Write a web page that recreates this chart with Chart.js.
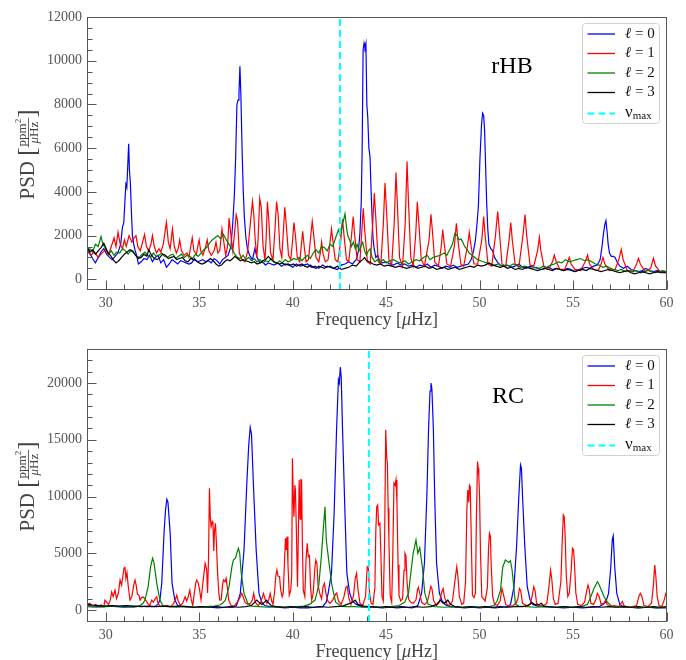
<!DOCTYPE html>
<html>
<head>
<meta charset="utf-8">
<script src="https://cdn.jsdelivr.net/npm/chart.js@4.4.1/dist/chart.umd.min.js"></script>
<style>
html, body { margin: 0; padding: 0; background: #fff; }
canvas { display: block; }
</style>
</head>
<body>
<canvas id="top" width="686" height="330"></canvas>
<canvas id="bottom" width="686" height="330"></canvas>
<script>
// axis ticks
const freqTicks = [30, 35, 40, 45, 50, 55, 60];
const rhbTicks = [0, 2000, 4000, 6000, 8000, 10000, 12000];
const rcTicks = [0, 5000, 10000, 15000, 20000];
const degrees = ['0', '1', '2', '3'];
const colors = ['#0000ff', '#ff0000', '#008000', '#000000'];
const numaxRHB = 42.53;
const numaxRC = 44.08;

// rHB star: [frequency, PSD] for l = 0..3
const rhbL0 = [[29.0,1450],[29.15,1200],[29.3,950],[29.45,750],[29.6,1000],[29.75,1250],[29.9,1400],[30.05,1150],[30.2,1000],[30.35,900],[30.5,1050],[30.65,1200],[30.8,1600],[30.9,2400],[30.97,2600],[31.03,3600],[31.08,4350],[31.13,4200],[31.18,5200],[31.23,6200],[31.27,5000],[31.32,4400],[31.38,3000],[31.43,2000],[31.5,1600],[31.58,1300],[31.65,1100],[31.75,700],[31.9,800],[32.05,950],[32.2,900],[32.35,1100],[32.5,800],[32.65,1000],[32.8,1100],[32.95,750],[33.1,900],[33.25,550],[33.4,700],[33.55,900],[33.7,800],[33.85,700],[34.0,850],[34.15,800],[34.3,750],[34.45,700],[34.6,750],[34.75,950],[34.9,800],[35.05,850],[35.2,900],[35.35,800],[35.5,850],[35.65,750],[35.8,950],[35.95,850],[36.1,700],[36.25,900],[36.4,1000],[36.55,1100],[36.7,1500],[36.8,2600],[36.88,3800],[36.95,5500],[37.02,8000],[37.08,8200],[37.13,8500],[37.18,9750],[37.23,8500],[37.3,5800],[37.36,4000],[37.42,2800],[37.5,1900],[37.58,1400],[37.7,1100],[37.85,900],[37.98,1400],[38.1,1000],[38.25,750],[38.4,800],[38.55,650],[38.7,750],[38.85,700],[39.0,650],[39.2,750],[39.4,600],[39.6,700],[39.8,650],[40.0,550],[40.2,700],[40.4,600],[40.6,650],[40.8,700],[41.0,550],[41.2,600],[41.4,500],[41.6,650],[41.8,550],[42.0,600],[42.2,500],[42.4,450],[42.6,650],[42.8,700],[43.0,800],[43.2,700],[43.4,900],[43.52,1300],[43.6,2100],[43.67,3500],[43.72,6000],[43.77,10500],[43.82,10800],[43.87,10600],[43.92,10800],[43.97,8000],[44.02,7400],[44.08,6000],[44.14,5600],[44.2,4000],[44.25,2900],[44.3,1900],[44.36,1400],[44.45,1000],[44.55,1100],[44.65,850],[44.8,750],[45.0,800],[45.2,700],[45.4,650],[45.6,750],[45.8,650],[46.0,700],[46.2,600],[46.4,650],[46.6,550],[46.8,650],[47.0,600],[47.2,700],[47.4,550],[47.6,650],[47.8,600],[48.0,500],[48.2,600],[48.4,550],[48.6,650],[48.8,550],[49.0,600],[49.2,650],[49.4,700],[49.55,900],[49.68,1300],[49.78,1800],[49.87,2600],[49.94,3400],[50.02,5500],[50.1,7000],[50.16,7600],[50.22,7500],[50.27,6800],[50.33,5000],[50.38,3500],[50.44,2300],[50.5,1600],[50.6,1400],[50.7,1300],[50.8,1000],[50.95,800],[51.1,650],[51.3,600],[51.5,650],[51.7,550],[51.9,600],[52.1,700],[52.3,550],[52.5,500],[52.7,600],[52.9,550],[53.1,500],[53.3,450],[53.5,500],[53.7,550],[53.9,450],[54.1,500],[54.3,450],[54.5,400],[54.7,500],[54.9,450],[55.1,350],[55.3,450],[55.5,500],[55.7,550],[55.9,500],[56.1,600],[56.3,650],[56.45,900],[56.55,1500],[56.63,2100],[56.7,2500],[56.76,2680],[56.82,2200],[56.88,1600],[56.95,1200],[57.05,1050],[57.15,1050],[57.25,1000],[57.35,800],[57.5,600],[57.7,500],[57.9,600],[58.1,450],[58.3,400],[58.5,350],[58.7,400],[58.9,500],[59.1,400],[59.3,350],[59.5,400],[59.7,350],[60.0,350]];
const rhbL1 = [[29.0,1300],[29.2,1100],[29.4,1250],[29.6,1000],[29.8,1200],[30.0,1350],[30.15,1100],[30.3,1500],[30.45,1900],[30.55,1500],[30.66,2150],[30.78,1600],[30.9,1400],[31.0,1800],[31.1,1500],[31.25,2000],[31.4,1700],[31.52,1900],[31.62,2000],[31.72,1500],[31.85,1300],[31.97,1700],[32.08,2050],[32.18,1500],[32.3,1300],[32.42,1600],[32.5,2000],[32.6,1500],[32.72,1200],[32.85,1400],[32.95,1250],[33.08,1600],[33.16,2100],[33.25,2600],[33.35,1700],[33.45,1400],[33.57,2300],[33.67,1500],[33.78,1200],[33.88,1400],[33.96,1800],[34.05,1300],[34.2,1100],[34.35,1200],[34.45,1000],[34.55,1500],[34.63,1900],[34.72,1300],[34.85,1150],[34.95,1600],[35.0,1800],[35.08,1300],[35.2,1100],[35.32,1400],[35.43,1800],[35.52,1300],[35.65,1100],[35.8,1300],[35.9,1700],[36.0,1200],[36.1,1300],[36.22,2300],[36.32,1700],[36.42,1100],[36.52,1500],[36.6,2800],[36.7,2000],[36.8,1300],[36.9,2200],[36.98,2950],[37.05,2700],[37.15,1200],[37.3,900],[37.45,800],[37.6,1300],[37.72,2400],[37.85,3550],[37.92,3000],[38.0,1800],[38.08,1000],[38.15,1800],[38.24,3700],[38.32,3300],[38.42,1500],[38.52,900],[38.58,1800],[38.65,3550],[38.72,2800],[38.82,1200],[38.95,900],[39.05,2200],[39.14,3550],[39.22,3000],[39.32,1400],[39.42,1000],[39.5,2100],[39.58,3300],[39.66,2500],[39.78,1100],[39.9,900],[40.0,1800],[40.07,2600],[40.15,2000],[40.25,1000],[40.38,800],[40.47,1600],[40.54,2200],[40.62,1500],[40.72,800],[40.85,900],[40.97,2000],[41.05,2650],[41.13,2000],[41.25,1000],[41.4,800],[41.5,1300],[41.55,1700],[41.62,1200],[41.75,800],[41.9,900],[42.0,1700],[42.08,2300],[42.16,1700],[42.28,900],[42.42,800],[42.58,1800],[42.67,2750],[42.75,2000],[42.88,900],[43.0,800],[43.15,2000],[43.24,2870],[43.32,2000],[43.45,900],[43.6,800],[43.7,2200],[43.78,3250],[43.86,2200],[44.0,800],[44.15,700],[44.28,2500],[44.37,3940],[44.45,2800],[44.58,800],[44.72,700],[44.85,2500],[44.94,4400],[45.02,3200],[45.15,900],[45.3,650],[45.43,2500],[45.53,4880],[45.6,3500],[45.72,1000],[45.88,600],[46.02,2500],[46.12,5390],[46.2,3500],[46.32,1000],[46.45,600],[46.58,2000],[46.67,3550],[46.75,2600],[46.88,900],[47.05,600],[47.3,1800],[47.4,2970],[47.48,2200],[47.6,800],[47.8,600],[47.95,1500],[48.03,2260],[48.1,1700],[48.25,700],[48.45,600],[48.65,1500],[48.76,2560],[48.84,1800],[49.0,700],[49.15,600],[49.35,1500],[49.45,2150],[49.55,1500],[49.7,700],[49.9,700],[50.12,1800],[50.22,2870],[50.3,2000],[50.45,700],[50.65,600],[50.85,2000],[50.97,3100],[51.05,2300],[51.2,700],[51.4,600],[51.58,1800],[51.67,2600],[51.75,1800],[51.9,700],[52.1,550],[52.32,2000],[52.43,2960],[52.52,2000],[52.7,650],[52.9,600],[53.1,1300],[53.2,1920],[53.28,1300],[53.45,550],[53.7,450],[53.9,800],[54.0,1110],[54.1,800],[54.3,450],[54.55,450],[54.72,800],[54.8,1000],[54.9,700],[55.1,450],[55.4,400],[55.65,800],[55.78,1110],[55.88,700],[56.1,450],[56.35,400],[56.5,700],[56.6,1000],[56.7,700],[56.95,400],[57.25,450],[57.45,900],[57.58,1370],[57.68,900],[57.9,400],[58.2,350],[58.4,700],[58.5,960],[58.6,700],[58.85,350],[59.15,500],[59.3,960],[59.42,600],[59.65,350],[60.0,300]];
const rhbL2 = [[29.0,1200],[29.15,1400],[29.3,1250],[29.45,1600],[29.6,1500],[29.75,1950],[29.85,1600],[30.0,1400],[30.15,1150],[30.3,1300],[30.45,1100],[30.6,1250],[30.75,1200],[30.9,1400],[31.05,1300],[31.2,1150],[31.35,1300],[31.5,1200],[31.65,1050],[31.8,1000],[31.95,1150],[32.1,1250],[32.25,1100],[32.4,1000],[32.55,1200],[32.7,1050],[32.85,1100],[33.0,1200],[33.15,1050],[33.3,1000],[33.45,1100],[33.6,1150],[33.75,950],[33.9,1050],[34.05,1150],[34.2,1000],[34.35,1100],[34.5,1050],[34.65,950],[34.8,1150],[34.95,1050],[35.1,1200],[35.25,1350],[35.4,1450],[35.55,1650],[35.7,1800],[35.85,1900],[36.0,2000],[36.15,1850],[36.3,2050],[36.45,1800],[36.6,1600],[36.75,1400],[36.9,1150],[37.05,1000],[37.2,950],[37.35,1100],[37.5,900],[37.65,1000],[37.8,850],[37.95,950],[38.1,800],[38.25,900],[38.4,750],[38.55,850],[38.7,800],[38.85,950],[39.0,800],[39.15,700],[39.3,850],[39.45,750],[39.6,900],[39.75,800],[39.9,850],[40.05,950],[40.2,900],[40.35,1000],[40.5,850],[40.65,1000],[40.8,1100],[40.95,950],[41.1,1200],[41.25,1350],[41.4,1200],[41.55,1500],[41.7,1450],[41.85,1300],[42.0,1600],[42.15,1500],[42.3,1900],[42.45,2260],[42.55,2000],[42.65,2500],[42.72,2700],[42.8,3000],[42.88,2400],[42.95,2000],[43.05,1800],[43.15,1500],[43.25,1700],[43.35,1400],[43.45,1600],[43.55,1300],[43.65,1500],[43.75,1700],[43.85,1300],[43.95,1100],[44.05,1300],[44.15,1400],[44.25,1000],[44.4,800],[44.55,900],[44.7,800],[44.85,900],[45.0,750],[45.2,850],[45.4,900],[45.6,800],[45.8,750],[46.0,850],[46.2,700],[46.4,800],[46.6,900],[46.8,850],[47.0,1000],[47.2,1100],[47.35,900],[47.5,1000],[47.7,1050],[47.9,1100],[48.1,1200],[48.25,1100],[48.4,1350],[48.55,1600],[48.68,2100],[48.8,2000],[48.9,1800],[49.0,1850],[49.1,1700],[49.2,1500],[49.3,1400],[49.45,1200],[49.6,1100],[49.75,1000],[49.9,900],[50.05,850],[50.2,800],[50.4,750],[50.6,700],[50.8,650],[51.0,700],[51.2,600],[51.4,650],[51.6,600],[51.8,700],[52.0,650],[52.2,550],[52.4,600],[52.6,550],[52.8,500],[53.0,550],[53.2,500],[53.4,600],[53.6,550],[53.8,650],[54.0,700],[54.2,800],[54.4,750],[54.6,900],[54.8,800],[55.0,850],[55.2,900],[55.4,950],[55.6,850],[55.8,900],[56.0,800],[56.2,700],[56.4,650],[56.6,550],[56.8,600],[57.0,500],[57.2,450],[57.4,400],[57.6,450],[57.8,350],[58.0,400],[58.2,350],[58.4,400],[58.6,300],[58.8,350],[59.0,400],[59.2,350],[59.4,300],[59.6,350],[59.8,400],[60.0,350]];
const rhbL3 = [[29.0,1500],[29.15,1250],[29.3,1350],[29.45,1150],[29.6,1300],[29.75,1450],[29.9,1650],[30.0,1450],[30.1,1250],[30.25,1100],[30.4,900],[30.55,750],[30.7,850],[30.85,1000],[31.0,1150],[31.15,1250],[31.3,1350],[31.45,1300],[31.6,1100],[31.75,950],[31.9,1000],[32.05,1150],[32.2,1050],[32.3,1350],[32.45,1100],[32.6,950],[32.75,900],[32.9,1000],[33.05,1150],[33.2,1100],[33.35,950],[33.5,1000],[33.65,1050],[33.8,900],[33.95,950],[34.1,1000],[34.25,850],[34.4,800],[34.55,950],[34.7,900],[34.85,850],[35.0,750],[35.15,700],[35.3,750],[35.45,850],[35.6,950],[35.75,850],[35.9,700],[36.05,600],[36.2,650],[36.35,800],[36.5,900],[36.65,850],[36.8,950],[36.9,1050],[37.05,950],[37.2,850],[37.35,900],[37.5,850],[37.65,800],[37.8,750],[37.95,800],[38.1,700],[38.25,750],[38.4,850],[38.55,900],[38.7,1050],[38.85,900],[39.0,800],[39.15,750],[39.3,700],[39.45,750],[39.6,650],[39.75,700],[39.9,650],[40.05,700],[40.2,600],[40.35,650],[40.5,700],[40.65,600],[40.8,550],[40.95,650],[41.1,550],[41.25,500],[41.4,600],[41.55,550],[41.7,500],[41.85,600],[42.0,550],[42.2,500],[42.4,600],[42.6,450],[42.8,500],[43.0,550],[43.2,650],[43.4,600],[43.6,800],[43.75,900],[43.85,1000],[43.95,850],[44.1,800],[44.3,700],[44.5,650],[44.7,700],[44.9,600],[45.1,650],[45.3,600],[45.5,550],[45.7,600],[45.9,550],[46.1,500],[46.3,550],[46.5,600],[46.7,500],[46.9,550],[47.1,600],[47.3,500],[47.5,550],[47.7,450],[47.9,500],[48.1,550],[48.3,450],[48.5,500],[48.7,550],[48.9,450],[49.1,500],[49.3,550],[49.5,600],[49.7,550],[49.9,650],[50.1,600],[50.3,650],[50.5,750],[50.7,650],[50.9,600],[51.1,550],[51.3,600],[51.5,500],[51.7,550],[51.9,450],[52.1,500],[52.3,450],[52.5,550],[52.7,500],[52.9,450],[53.1,400],[53.3,450],[53.5,500],[53.7,450],[53.9,400],[54.1,500],[54.3,450],[54.5,400],[54.7,450],[54.9,400],[55.1,350],[55.3,400],[55.5,450],[55.7,400],[55.9,500],[56.1,450],[56.3,400],[56.5,350],[56.7,400],[56.9,450],[57.1,400],[57.3,350],[57.5,300],[57.7,350],[57.9,400],[58.1,300],[58.3,250],[58.5,300],[58.7,350],[58.9,300],[59.1,250],[59.3,300],[59.5,350],[59.7,300],[60.0,300]];

// RC star: [frequency, PSD] for l = 0..3
const rcL0 = [[29.0,400],[29.4,350],[29.8,300],[30.2,350],[30.6,300],[31.0,250],[31.4,300],[31.8,350],[32.2,300],[32.6,300],[32.8,500],[32.9,880],[33.0,2380],[33.12,6760],[33.2,8800],[33.27,9760],[33.33,9500],[33.45,6760],[33.55,2380],[33.7,880],[33.85,400],[34.0,350],[34.4,300],[34.8,250],[35.2,300],[35.6,250],[36.0,200],[36.4,250],[36.8,250],[37.0,400],[37.2,1470],[37.4,5290],[37.55,11170],[37.65,14500],[37.73,16100],[37.8,15500],[37.9,11170],[38.05,5290],[38.2,1470],[38.35,700],[38.5,400],[38.8,300],[39.2,250],[39.6,200],[40.0,250],[40.4,200],[40.8,200],[41.2,250],[41.6,300],[41.8,700],[41.9,1500],[42.08,3260],[42.22,8550],[42.35,15880],[42.45,20300],[42.5,20000],[42.55,21400],[42.6,20500],[42.67,15880],[42.8,8550],[42.9,3260],[43.05,1500],[43.2,800],[43.4,500],[43.7,300],[44.0,250],[44.4,250],[44.8,200],[45.2,250],[45.6,200],[46.0,250],[46.4,200],[46.7,400],[46.9,1500],[47.05,4120],[47.18,10000],[47.27,15880],[47.35,19300],[47.4,20000],[47.45,19500],[47.53,15880],[47.6,10000],[47.7,4120],[47.85,1500],[48.0,800],[48.15,500],[48.4,300],[48.8,250],[49.2,200],[49.6,250],[50.0,200],[50.4,250],[50.8,200],[51.2,250],[51.5,300],[51.66,500],[51.84,2060],[51.98,5590],[52.1,10000],[52.19,12790],[52.24,12500],[52.3,10000],[52.42,5590],[52.55,2060],[52.7,900],[52.85,500],[53.1,350],[53.5,300],[54.0,250],[54.5,200],[55.0,250],[55.5,200],[56.0,250],[56.4,300],[56.6,500],[56.75,700],[56.9,1470],[57.02,3820],[57.1,6200],[57.15,6530],[57.23,3820],[57.34,1470],[57.5,500],[57.7,300],[58.0,250],[58.5,200],[59.0,250],[59.5,200],[60.0,200]];
const rcL1 = [[29.0,400],[29.15,600],[29.3,300],[29.45,500],[29.6,350],[29.75,450],[29.9,300],[29.96,880],[30.05,700],[30.15,500],[30.25,900],[30.32,1600],[30.4,1200],[30.5,1760],[30.58,1000],[30.68,1500],[30.77,2650],[30.85,2200],[30.92,3000],[30.98,3700],[31.03,3820],[31.08,2800],[31.14,3300],[31.2,2200],[31.3,880],[31.4,1200],[31.5,2200],[31.57,2650],[31.63,2200],[31.7,1400],[31.78,1300],[31.84,880],[31.92,1100],[32.0,1150],[32.1,1000],[32.2,700],[32.28,500],[32.36,400],[32.46,880],[32.55,700],[32.65,1000],[32.73,1170],[32.8,600],[32.9,350],[33.0,300],[33.1,350],[33.3,400],[33.45,300],[33.6,500],[33.72,900],[33.8,1320],[33.88,800],[34.0,400],[34.12,600],[34.25,1170],[34.33,800],[34.42,1200],[34.5,1760],[34.58,900],[34.66,400],[34.74,1500],[34.82,2400],[34.87,2650],[34.95,2400],[35.02,1800],[35.1,900],[35.2,2400],[35.32,4120],[35.4,3600],[35.45,1500],[35.5,4500],[35.55,10730],[35.6,8000],[35.64,7350],[35.7,7800],[35.74,7640],[35.78,5200],[35.82,7000],[35.87,7640],[35.92,6000],[35.98,3500],[36.05,1500],[36.1,880],[36.18,900],[36.25,2200],[36.3,2650],[36.38,2500],[36.44,2800],[36.5,2060],[36.58,900],[36.7,400],[36.85,350],[36.95,500],[37.05,700],[37.15,1000],[37.28,1470],[37.35,1200],[37.45,700],[37.6,500],[37.75,600],[37.85,900],[37.92,1470],[38.0,700],[38.15,400],[38.3,700],[38.44,1470],[38.52,1000],[38.62,600],[38.72,900],[38.8,1470],[38.88,800],[38.95,500],[39.03,1500],[39.1,3000],[39.16,3530],[39.22,3000],[39.3,2940],[39.36,1800],[39.44,1170],[39.5,1500],[39.57,4500],[39.62,6320],[39.66,5290],[39.7,6470],[39.75,4000],[39.82,1320],[39.9,1760],[39.95,3000],[39.99,13380],[40.04,9500],[40.07,8230],[40.12,11000],[40.15,10580],[40.2,7060],[40.26,2060],[40.3,6000],[40.35,11460],[40.4,8000],[40.44,11500],[40.48,11460],[40.52,6000],[40.57,1760],[40.65,1200],[40.72,4500],[40.78,5880],[40.84,4700],[40.9,4800],[40.96,2000],[41.02,880],[41.1,1500],[41.18,3530],[41.24,4410],[41.3,4100],[41.36,2200],[41.45,1470],[41.55,1000],[41.62,2000],[41.7,2350],[41.78,1500],[41.88,800],[42.0,600],[42.15,900],[42.3,1400],[42.36,1500],[42.45,800],[42.6,500],[42.75,1200],[42.85,2000],[42.92,2100],[43.0,1100],[43.12,500],[43.25,1200],[43.35,2800],[43.42,3230],[43.5,1800],[43.6,600],[43.75,400],[43.9,1200],[43.99,3820],[44.05,3700],[44.12,1400],[44.2,600],[44.3,500],[44.4,2000],[44.45,7000],[44.5,9110],[44.55,9260],[44.6,7500],[44.67,7640],[44.72,5000],[44.78,1200],[44.85,800],[44.92,6000],[44.98,15880],[45.03,13500],[45.07,12940],[45.11,9000],[45.15,6170],[45.22,1300],[45.3,700],[45.36,5000],[45.42,11170],[45.48,11000],[45.53,11470],[45.58,9500],[45.64,4000],[45.69,1320],[45.78,800],[45.88,1000],[45.96,3500],[46.01,5000],[46.06,4800],[46.12,2500],[46.2,1000],[46.3,700],[46.45,600],[46.6,900],[46.68,1800],[46.73,2000],[46.8,1500],[46.9,700],[47.05,500],[47.2,700],[47.32,1500],[47.39,2100],[47.45,1900],[47.55,800],[47.7,400],[47.85,700],[47.98,1600],[48.05,1900],[48.12,1200],[48.25,500],[48.4,400],[48.55,800],[48.7,2800],[48.78,3820],[48.84,3000],[48.92,1200],[49.05,500],[49.15,600],[49.25,2500],[49.32,8820],[49.37,10580],[49.42,9500],[49.46,11000],[49.5,10880],[49.56,6000],[49.62,1300],[49.7,1100],[49.78,1500],[49.83,8000],[49.89,13080],[49.93,12500],[49.96,11770],[50.0,10000],[50.05,5000],[50.12,1170],[50.2,1000],[50.3,800],[50.42,2000],[50.48,5500],[50.53,6760],[50.58,6500],[50.62,4000],[50.7,1200],[50.8,500],[50.95,400],[51.1,800],[51.2,1900],[51.26,1500],[51.4,500],[51.6,300],[51.8,400],[51.95,600],[52.05,1000],[52.13,1900],[52.2,1700],[52.3,600],[52.5,400],[52.7,500],[52.82,1300],[52.9,2060],[52.97,1700],[53.05,600],[53.2,400],[53.4,350],[53.6,600],[53.72,2200],[53.8,3500],[53.86,2800],[53.95,1000],[54.05,500],[54.2,600],[54.35,2500],[54.42,6000],[54.48,8380],[54.53,8200],[54.58,6500],[54.64,3000],[54.72,1200],[54.8,1500],[54.9,3500],[54.97,5440],[55.03,5300],[55.08,4000],[55.15,1500],[55.25,500],[55.45,400],[55.62,700],[55.72,1600],[55.8,2200],[55.87,1800],[55.95,600],[56.1,500],[56.22,900],[56.3,1470],[56.4,1200],[56.5,500],[56.65,600],[56.74,880],[56.82,500],[57.0,300],[57.2,400],[57.45,300],[57.57,600],[57.64,760],[57.72,400],[57.95,250],[58.2,300],[58.4,400],[58.52,1200],[58.6,1470],[58.68,1200],[58.8,400],[59.0,300],[59.2,600],[59.3,2200],[59.37,3970],[59.43,3000],[59.5,1200],[59.6,400],[59.75,300],[59.88,900],[59.96,1470],[60.0,1400]];
const rcL2 = [[29.0,300],[29.5,250],[30.0,300],[30.5,350],[31.0,300],[31.5,250],[31.8,350],[32.0,600],[32.1,880],[32.27,2060],[32.4,3800],[32.51,4560],[32.58,4200],[32.73,2380],[32.9,880],[33.05,400],[33.3,300],[33.8,250],[34.3,300],[34.8,250],[35.3,300],[35.8,350],[36.1,450],[36.25,600],[36.4,880],[36.6,2060],[36.75,3800],[36.83,4400],[36.95,4600],[37.03,5100],[37.1,5440],[37.17,5000],[37.25,3240],[37.4,1470],[37.6,600],[37.8,350],[38.2,300],[38.7,250],[39.2,300],[39.7,250],[40.2,300],[40.6,350],[40.9,500],[41.2,880],[41.4,2200],[41.55,5000],[41.65,7350],[41.73,9110],[41.8,6170],[41.95,4120],[42.1,2200],[42.3,700],[42.55,400],[42.8,300],[43.3,300],[43.8,250],[44.3,300],[44.8,250],[45.3,300],[45.7,400],[46.0,700],[46.2,1500],[46.36,3800],[46.45,5000],[46.6,6170],[46.7,5000],[46.8,5500],[46.94,3800],[47.07,1500],[47.25,500],[47.6,300],[48.1,250],[48.6,300],[49.1,250],[49.6,300],[50.1,250],[50.5,300],[50.77,400],[50.94,800],[51.12,1760],[51.24,3800],[51.38,4410],[51.47,4300],[51.56,4200],[51.65,4350],[51.74,3530],[51.83,2060],[51.92,500],[52.1,350],[52.5,300],[53.0,250],[53.5,300],[54.0,250],[54.5,300],[55.0,250],[55.4,300],[55.6,400],[55.77,500],[55.95,1170],[56.12,1900],[56.3,2500],[56.38,2300],[56.48,1900],[56.66,1170],[56.84,700],[57.1,300],[57.5,250],[58.0,250],[58.5,200],[59.0,250],[59.5,200],[60.0,250]];
const rcL3 = [[29.0,550],[29.3,450],[29.6,400],[29.9,350],[30.3,400],[30.7,350],[31.1,400],[31.5,350],[31.9,300],[32.3,350],[32.7,300],[33.1,350],[33.5,300],[33.9,350],[34.3,300],[34.7,250],[35.1,300],[35.5,250],[35.9,300],[36.3,250],[36.7,300],[37.1,250],[37.5,300],[37.8,400],[37.95,650],[38.08,880],[38.2,700],[38.35,500],[38.5,700],[38.6,880],[38.7,650],[38.85,400],[39.1,300],[39.5,250],[39.9,300],[40.3,250],[40.7,300],[41.1,250],[41.5,300],[41.9,250],[42.3,300],[42.7,350],[42.9,500],[43.1,600],[43.25,750],[43.35,880],[43.5,500],[43.8,350],[44.2,300],[44.6,250],[45.0,300],[45.4,250],[45.8,300],[46.2,250],[46.6,300],[47.0,250],[47.4,300],[47.7,500],[47.9,880],[48.05,600],[48.2,700],[48.3,880],[48.45,500],[48.7,300],[49.1,250],[49.5,300],[49.9,250],[50.3,300],[50.7,250],[51.1,300],[51.5,250],[51.9,300],[52.3,300],[52.6,400],[52.8,650],[52.95,500],[53.15,450],[53.3,600],[53.45,350],[53.7,300],[54.1,250],[54.5,300],[54.9,250],[55.3,300],[55.7,250],[56.1,300],[56.5,250],[56.9,300],[57.3,250],[57.7,300],[58.1,250],[58.5,300],[58.9,250],[59.3,300],[59.7,250],[60.0,300]];

const SERIF = "'Liberation Serif', 'Times New Roman', serif";

function drawParts(ctx, parts, x, y) {
  parts.forEach(p => {
    ctx.font = p[1];
    ctx.fillText(p[0], x, y + (p[2] || 0));
    x += ctx.measureText(p[0]).width;
  });
}
function partsWidth(ctx, parts) {
  let w = 0;
  parts.forEach(p => { ctx.font = p[1]; w += ctx.measureText(p[0]).width; });
  return w;
}

function panelPlugin(opt) {
  return {
    id: 'panel',
    afterDatasetsDraw(chart) {
      const ctx = chart.ctx, a = chart.chartArea;
      const xs = chart.scales.x, ys = chart.scales.y;
      ctx.save();
      // frame
      ctx.strokeStyle = '#555';
      ctx.lineWidth = 1;
      const L = Math.round(a.left) + 0.5, T = Math.round(a.top) + 0.5;
      const R = Math.round(a.right) - 0.5, B = Math.round(a.bottom) - 0.5;
      ctx.strokeRect(L, T, R - L, B - T);
      // inward ticks
      ctx.beginPath();
      for (let f = 29; f <= 60; f++) {
        const px = Math.round(xs.getPixelForValue(f)) + 0.5;
        const len = f % 5 === 0 ? 9 : 5;
        ctx.moveTo(px, B); ctx.lineTo(px, B - len);
      }
      for (let v = 0; v <= opt.yMax; v += opt.minor) {
        const py = Math.round(ys.getPixelForValue(v)) + 0.5;
        const len = v % opt.major === 0 ? 9 : 5;
        ctx.moveTo(L, py); ctx.lineTo(L + len, py);
      }
      ctx.stroke();

      // legend
      const bx = 582.5, by = a.top + 6.5, bw = 77, bh = 100;
      ctx.fillStyle = 'rgba(255,255,255,0.85)';
      ctx.strokeStyle = '#d0d0d0';
      ctx.beginPath();
      ctx.roundRect(bx, by, bw, bh, 3);
      ctx.fill(); ctx.stroke();
      ctx.textBaseline = 'middle';
      ctx.textAlign = 'left';
      for (let i = 0; i < 5; i++) {
        const ry = by + 10.5 + 19.5 * i + (i === 4 ? 1.5 : 0);
        ctx.beginPath();
        if (i < 4) {
          ctx.strokeStyle = colors[i];
          ctx.lineWidth = 1.3;
          ctx.setLineDash([]);
        } else {
          ctx.strokeStyle = '#00ffff';
          ctx.lineWidth = 2;
          ctx.setLineDash([7, 4]);
        }
        ctx.moveTo(587.5, ry); ctx.lineTo(615, ry);
        ctx.stroke();
        ctx.setLineDash([]);
        ctx.fillStyle = '#111';
        if (i < 4) {
          drawParts(ctx, [['\u2113', 'italic 15px ' + SERIF], [' = ', '15px ' + SERIF], [degrees[i], '15px ' + SERIF]], 625, ry);
        } else {
          drawParts(ctx, [['\u03bd', '17px ' + SERIF, -1], ['max', '11px ' + SERIF, 3]], 625, ry);
        }
      }

      // panel tag
      ctx.fillStyle = '#000';
      ctx.font = '24px ' + SERIF;
      ctx.textAlign = 'center';
      ctx.fillText(opt.tag, opt.tagX, a.top + opt.tagDy);

      // x title
      ctx.fillStyle = '#444';
      ctx.textAlign = 'left';
      const xParts = [['Frequency [', '18px ' + SERIF], ['\u03bc', 'italic 18px ' + SERIF], ['Hz]', '18px ' + SERIF]];
      const xw = partsWidth(ctx, xParts);
      drawParts(ctx, xParts, (a.left + a.right) / 2 - xw / 2, a.bottom + 30);

      // y title, rotated
      ctx.save();
      ctx.translate(28, (a.top + a.bottom) / 2 + 1);
      ctx.rotate(-Math.PI / 2);
      ctx.textBaseline = 'alphabetic';
      ctx.font = '21px ' + SERIF;
      const wPSD = ctx.measureText('PSD ').width;
      ctx.font = '25px ' + SERIF;
      const wBr = ctx.measureText('[').width;
      const num = [['ppm', '13px ' + SERIF], ['2', '9px ' + SERIF, -5]];
      const den = [['\u03bc', 'italic 13px ' + SERIF], ['Hz', '13px ' + SERIF]];
      const fw = Math.max(partsWidth(ctx, num), partsWidth(ctx, den)) + 2;
      const total = wPSD + wBr + fw + wBr;
      let x0 = -total / 2;
      ctx.font = '21px ' + SERIF;
      ctx.fillText('PSD ', x0, 6);
      x0 += wPSD;
      ctx.font = '25px ' + SERIF;
      ctx.fillText('[', x0, 7);
      x0 += wBr;
      drawParts(ctx, num, x0 + (fw - partsWidth(ctx, num)) / 2, -2);
      drawParts(ctx, den, x0 + (fw - partsWidth(ctx, den)) / 2, 10);
      ctx.strokeStyle = '#444';
      ctx.lineWidth = 0.8;
      ctx.beginPath();
      ctx.moveTo(x0, 0.5); ctx.lineTo(x0 + fw, 0.5);
      ctx.stroke();
      x0 += fw;
      ctx.font = '25px ' + SERIF;
      ctx.fillText(']', x0, 7);
      ctx.restore();

      ctx.restore();
    }
  };
}

function makeChart(id, series, numax, yMin, yMax, yTicks, minor, major, topPad, xHeight, tag, tagX, tagDy) {
  const datasets = series.map((s, i) => ({
    label: '\u2113 = ' + degrees[i],
    data: s.map(p => ({ x: p[0], y: p[1] })),
    borderColor: colors[i],
    borderWidth: 1.2,
    pointRadius: 0,
    tension: 0,
    order: 4 - i
  }));
  datasets.push({
    label: 'numax',
    data: [{ x: numax, y: yMin }, { x: numax, y: yMax }],
    borderColor: '#00ffff',
    borderWidth: 2,
    borderDash: [7, 4],
    pointRadius: 0,
    order: 0
  });
  return new Chart(document.getElementById(id), {
    type: 'line',
    data: { datasets: datasets },
    options: {
      responsive: false,
      animation: false,
      layout: { padding: { left: 0, right: 19.5, top: topPad, bottom: 0 } },
      plugins: { legend: { display: false }, tooltip: { enabled: false } },
      scales: {
        x: {
          type: 'linear', min: 29, max: 60,
          afterBuildTicks: s => { s.ticks = freqTicks.map(v => ({ value: v })); },
          afterFit: s => { s.height = xHeight; },
          grid: { display: false, drawTicks: false },
          border: { display: false },
          ticks: { color: '#555', padding: 5, maxRotation: 0, autoSkip: false, font: { family: SERIF, size: 14 },
                   callback: v => String(v) }
        },
        y: {
          type: 'linear', min: yMin, max: yMax,
          afterBuildTicks: s => { s.ticks = yTicks.map(v => ({ value: v })); },
          afterFit: s => { s.width = 87; },
          grid: { display: false, drawTicks: false },
          border: { display: false },
          ticks: { color: '#555', padding: 5, autoSkip: false, font: { family: SERIF, size: 14 },
                   callback: v => String(v) }
        }
      }
    },
    plugins: [panelPlugin({ yMax: yMax, minor: minor, major: major, tag: tag, tagX: tagX, tagDy: tagDy })]
  });
}

makeChart('top', [rhbL0, rhbL1, rhbL2, rhbL3], numaxRHB, -490, 12000, rhbTicks, 500, 2000, 17, 40, 'rHB', 512, 50);
makeChart('bottom', [rcL0, rcL1, rcL2, rcL3], numaxRC, -1050, 23000, rcTicks, 1000, 5000, 19, 38, 'RC', 508, 48);
</script>
</body>
</html>
